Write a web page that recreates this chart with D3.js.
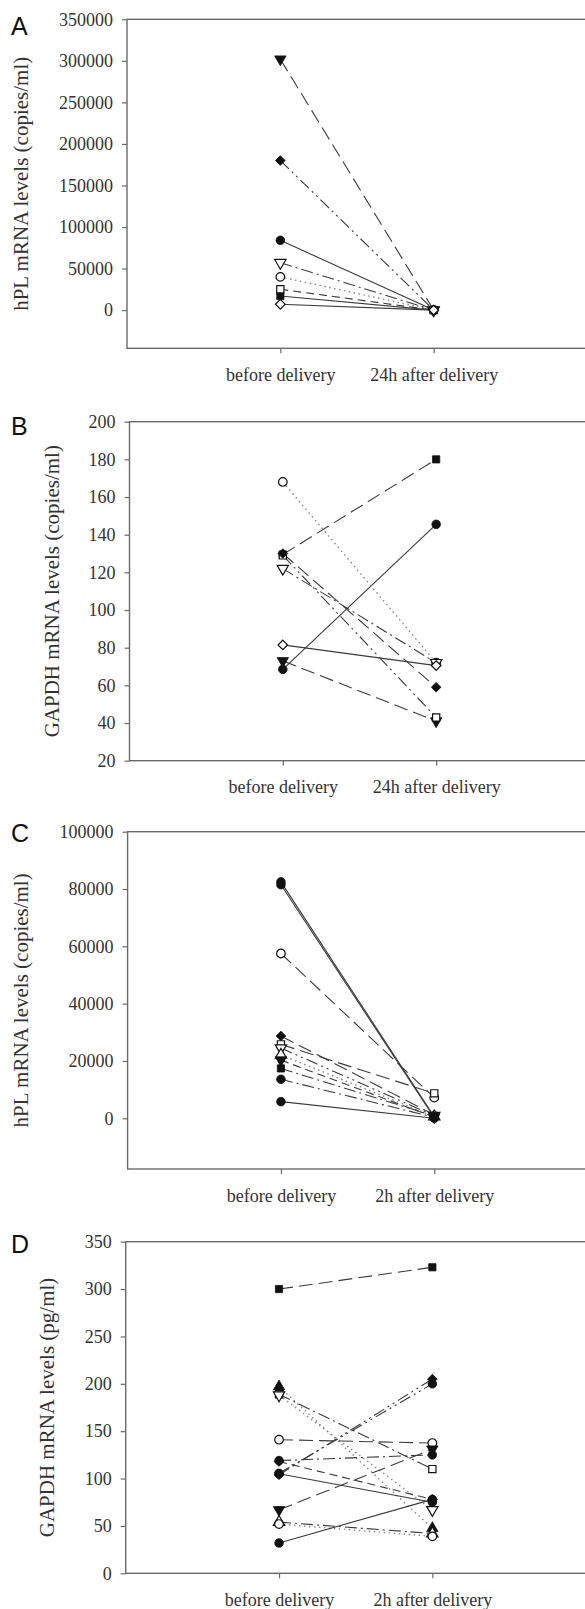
<!DOCTYPE html>
<html>
<head>
<meta charset="utf-8">
<script src="https://cdn.jsdelivr.net/npm/d3@7"></script>
<style>
  body { margin: 0; background: #fff; }
  svg { display: block; }
</style>
</head>
<body>
<div id="container"></div>
<script>
/* DATA */
const categories24h = ['before delivery', '24h after delivery']
const categories2h = ['before delivery', '2h after delivery']

// A: hPL mRNA, before vs 24h after
const beforeA = [84000, 40000, 302000, 57000, 17000, 25000, 180000, 7000]
const afterA = [0, 0, 0, 0, 0, 0, 0, 0]
const symbolsA = ['circle', 'circleOpen', 'triDown', 'triDownOpen', 'square', 'squareOpen', 'diamond', 'diamondOpen']
const dashesA = ['solid', 'dot', 'longdash', 'dashdot', 'solid', 'dash', 'dashdotdot', 'solid']
const ticksA = [0, 50000, 100000, 150000, 200000, 250000, 300000, 350000]

// B: GAPDH mRNA, before vs 24h after
const beforeB = [68.5, 168, 73, 122, 129.5, 129, 130, 81.5]
const afterB = [145.5, 72, 41, 72, 180, 43, 59, 70.5]
const symbolsB = ['circle', 'circleOpen', 'triDown', 'triDownOpen', 'square', 'squareOpen', 'diamond', 'diamondOpen']
const dashesB = ['solid', 'dot', 'longdash', 'dashdot', 'longdash', 'dashdotdot', 'longdash', 'solid']
const ticksB = [20, 40, 60, 80, 100, 120, 140, 160, 180, 200]

// C: hPL mRNA, before vs 2h after
const beforeC = [81500, 57500, 28700, 25800, 24500, 22100, 20300, 17400, 13600, 5800, 82500]
const afterC = [200, 7200, 1200, 8700, 900, 600, 400, 800, 300, 0, 500]
const symbolsC = ['circle', 'circleOpen', 'diamond', 'squareOpen', 'triDownOpen', 'triOpen', 'triDown', 'square', 'circle', 'circle', 'circle']
const dashesC = ['solid', 'longdash', 'longdash', 'longdash', 'dashdotdot', 'dot', 'dash', 'dashdot', 'dashdot', 'solid', 'solid']
const ticksC = [0, 20000, 40000, 60000, 80000, 100000]

// D: GAPDH mRNA, before vs 2h after
const beforeD = [300, 197, 189, 188, 141, 119, 118, 105.5, 104, 105, 67, 54, 52, 32]
const afterD = [323, 47.5, 110, 67, 137.5, 125, 78, 200, 205, 75, 131, 42, 39, 78]
const symbolsD = ['square', 'tri', 'squareOpen', 'triDownOpen', 'circleOpen', 'circle', 'diamond', 'circle', 'diamond', 'circle', 'triDown', 'triOpen', 'circleOpen', 'circle']
const dashesD = ['longdash', 'dot', 'dashdot', 'dot', 'longdash', 'dashdot', 'dash', 'dashdotdot', 'dashdotdot', 'solid', 'longdash', 'dashdot', 'dot', 'solid']
const ticksD = [0, 50, 100, 150, 200, 250, 300, 350]

/* CONSTANTS */
const width = 585,
  height = 1609

const dashMap = {
  solid: null,
  longdash: '14,6',
  dash: '8,5',
  dot: '1.5,3.5',
  dashdot: '12,4,2,4',
  dashdotdot: '12,4,2,4,2,4'
}

// panel layout (pixel positions)
const panels = [
  { letter: 'A', letterY: 35, top: 19.3, bottom: 348.3, left: 127, yDomain: [-46000, 350000], ticks: ticksA,
    titleX: 21, title: 'hPL mRNA levels (copies/ml)', cats: categories24h,
    before: beforeA, after: afterA, symbols: symbolsA, dashes: dashesA },
  { letter: 'B', letterY: 435, top: 421.7, bottom: 760.7, left: 129.5, yDomain: [20, 200], ticks: ticksB,
    titleX: 52, title: 'GAPDH mRNA levels (copies/ml)', cats: categories24h,
    before: beforeB, after: afterB, symbols: symbolsB, dashes: dashesB },
  { letter: 'C', letterY: 842, top: 831.7, bottom: 1169, left: 127.6, yDomain: [-17700, 100000], ticks: ticksC,
    titleX: 21, title: 'hPL mRNA levels (copies/ml)', cats: categories2h,
    before: beforeC, after: afterC, symbols: symbolsC, dashes: dashesC },
  { letter: 'D', letterY: 1253, top: 1241.7, bottom: 1573.3, left: 125.7, yDomain: [0, 350], ticks: ticksD,
    titleX: 47, title: 'GAPDH mRNA levels (pg/ml)', cats: categories2h,
    before: beforeD, after: afterD, symbols: symbolsD, dashes: dashesD }
]

function markerPath(name) {
  const base = name.replace('Open', '')
  if (base === 'circle') return d3.symbol(d3.symbolCircle, 58)()
  if (base === 'square') return d3.symbol(d3.symbolSquare, 52)()
  if (base === 'diamond') return d3.symbol(d3.symbolSquare, 46)()
  return d3.symbol(d3.symbolTriangle, 56)()
}
function markerRotate(name) {
  const base = name.replace('Open', '')
  if (base === 'diamond') return 45
  if (base === 'triDown') return 180
  return 0
}

/* SVG */
const svg = d3.select('#container')
  .append('svg')
  .attr('width', width)
  .attr('height', height)

svg.append('rect')
  .attr('width', width)
  .attr('height', height)
  .attr('fill', '#fff')

panels.forEach(p => drawPanel(p))

function drawPanel(p) {
  const xScale = d3.scaleLinear()
    .domain([0, 3])
    .range([p.left, p.left + 460])

  const yScale = d3.scaleLinear()
    .domain(p.yDomain)
    .range([p.bottom, p.top])

  const g = svg.append('g')

  // frame
  g.append('rect')
    .attr('x', p.left)
    .attr('y', p.top)
    .attr('width', 460)
    .attr('height', p.bottom - p.top)
    .attr('fill', 'none')
    .attr('stroke', '#6a6a6a')
    .attr('stroke-width', 1.4)

  // y axis
  const yAxis = d3.axisLeft(yScale)
    .tickValues(p.ticks)
    .tickSize(5)
    .tickPadding(9)
    .tickFormat(d3.format('d'))

  const yG = g.append('g')
    .attr('transform', `translate(${p.left}, 0)`)
    .call(yAxis)
  yG.select('.domain').remove()
  yG.selectAll('line').attr('stroke', '#6a6a6a').attr('stroke-width', 1.2)
  yG.selectAll('text')
    .attr('fill', '#333')
    .style('font-family', '"Liberation Serif", "Times New Roman", serif')
    .style('font-size', '18px')

  // x axis
  const xAxis = d3.axisBottom(xScale)
    .tickValues([1, 2])
    .tickSize(5)
    .tickPadding(15)
    .tickFormat((d, i) => p.cats[i])

  const xG = g.append('g')
    .attr('transform', `translate(0, ${p.bottom})`)
    .call(xAxis)
  xG.select('.domain').remove()
  xG.selectAll('line').attr('stroke', '#6a6a6a').attr('stroke-width', 1.2)
  xG.selectAll('text')
    .attr('fill', '#333')
    .style('font-family', '"Liberation Serif", "Times New Roman", serif')
    .style('font-size', '18px')

  // axis title
  g.append('text')
    .attr('transform', `translate(${p.titleX}, ${(p.top + p.bottom) / 2}) rotate(-90)`)
    .attr('dy', '0.35em')
    .style('text-anchor', 'middle')
    .style('font-family', '"Liberation Serif", "Times New Roman", serif')
    .style('font-size', '21px')
    .attr('fill', '#333')
    .text(p.title)

  // panel letter
  g.append('text')
    .attr('x', 11)
    .attr('y', p.letterY)
    .style('font-family', '"Liberation Sans", Arial, sans-serif')
    .style('font-size', '25px')
    .attr('fill', '#111')
    .text(p.letter)

  const rows = p.before.map((b, i) => ({
    before: b,
    after: p.after[i],
    symbol: p.symbols[i],
    dash: p.dashes[i]
  }))

  // connecting lines
  g.selectAll('line.pair')
    .data(rows)
    .join('line')
    .attr('class', 'pair')
    .attr('x1', xScale(1))
    .attr('y1', d => yScale(d.before))
    .attr('x2', xScale(2))
    .attr('y2', d => yScale(d.after))
    .attr('stroke', d => d.dash === 'dot' ? '#888' : '#3a3a3a')
    .attr('stroke-width', d => d.dash === 'dot' ? 1.4 : 1.1)
    .attr('stroke-dasharray', d => dashMap[d.dash])

  // markers
  const pts = []
  rows.forEach(d => {
    pts.push({ x: 1, v: d.before, symbol: d.symbol })
    pts.push({ x: 2, v: d.after, symbol: d.symbol })
  })

  g.selectAll('path.mark')
    .data(pts)
    .join('path')
    .attr('class', 'mark')
    .attr('d', d => markerPath(d.symbol))
    .attr('transform', d => `translate(${xScale(d.x)}, ${yScale(d.v)}) rotate(${markerRotate(d.symbol)})`)
    .attr('fill', d => d.symbol.includes('Open') ? '#fff' : '#111')
    .attr('stroke', '#111')
    .attr('stroke-width', d => d.symbol.includes('Open') ? 1.2 : 0.8)
}
</script>
</body>
</html>
